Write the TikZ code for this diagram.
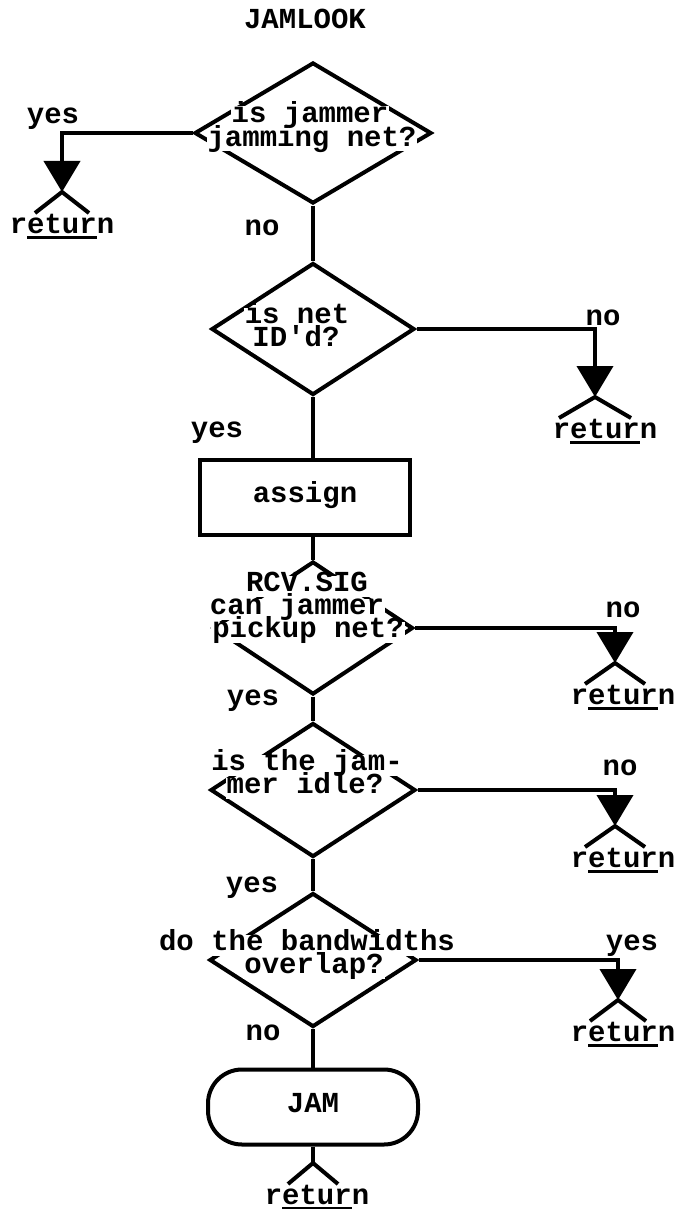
\documentclass[tikz,border=0pt]{standalone}
\usepackage{fontspec}
\setmonofont{Liberation Mono}
\usetikzlibrary{arrows.meta,shapes.geometric,calc}
\tikzset{
  decision/.style={diamond, draw, line width=4pt, inner sep=0pt},
  process/.style={rectangle, draw, line width=4pt, minimum width=210pt, minimum height=75pt},
  terminal/.style={rectangle, rounded corners=34pt, draw, line width=4pt,
    minimum width=210pt, minimum height=75pt},
  txt/.style={font=\fontsize{29}{22}\selectfont\ttfamily\bfseries, inner sep=1pt,
    text height=15pt, text depth=4pt},
  qline/.style={txt, fill=white},
  flow/.style={line width=4pt},
  exit/.style={flow, -{Triangle[length=31pt,width=36pt]}}
}
\newcommand{\ulret}[1]{\setbox0\hbox{#1}\rlap{\rule[-6pt]{\wd0}{3pt}}\box0}

\begin{document}
\begin{tikzpicture}[x=1pt, y=-1pt]
  \useasboundingbox (0,0) rectangle (680,1209);
  \node[txt] (title) at (305,23) {JAMLOOK};
  % shapes
  \node[decision, minimum width=237pt, minimum height=141pt] (d1) at (313,133) {};
  \node[decision, minimum width=203pt, minimum height=132pt] (d2) at (313,329) {};
  \node[process] (assign) at (305,497) {};
  \node[decision, minimum width=200pt, minimum height=133pt] (d3) at (313,628) {};
  \node[decision, minimum width=205pt, minimum height=134pt] (d4) at (313,790) {};
  \node[decision, minimum width=207pt, minimum height=134pt] (d5) at (313,960) {};
  \node[terminal] (jam) at (313,1107) {};
  % texts
  \node[txt] at (assign) {assign};
  \node[txt] at (jam) {JAM};
  \node[qline] (q1a) at (310,117) {is jammer};
  \node[qline] (q1b) at (312,141) {jamming net?};
  \node[qline] (q2a) at (297,318) {is net};
  \node[qline] (q2b) at (296,341) {ID'd?};
  \node[qline] (q3a) at (307,586) {RCV.SIG};
  \node[qline] (q3b) at (297,609) {can jammer};
  \node[qline] (q3c) at (308,632) {pickup net?};
  \node[qline] (q4a) at (307,765) {is the jam-};
  \node[qline] (q4b) at (305,788) {mer idle?};
  \node[qline] (q5a) at (307,945) {do the bandwidths};
  \node[qline] (q5b) at (314,968) {overlap?};
  \node[txt] (yes1) at (53,118) {yes};
  \node[txt] (no1) at (262,230) {no};
  \node[txt] (no2) at (603,320) {no};
  \node[txt] (yes2) at (217,432) {yes};
  \node[txt] (no3) at (623,612) {no};
  \node[txt] (yes3) at (253,700) {yes};
  \node[txt] (no4) at (620,770) {no};
  \node[txt] (yes4) at (252,887) {yes};
  \node[txt] (yes5) at (632,945) {yes};
  \node[txt] (no5) at (263,1035) {no};
  % returns
  \coordinate (x1) at (62,192);
  \coordinate (x2) at (595,397);
  \coordinate (x3) at (615,663);
  \coordinate (x4) at (615,826);
  \coordinate (x5) at (618,1000);
  \coordinate (x6) at (313,1163);
  \foreach \i/\dx/\w in {1/0/27, 2/10/36, 3/8/30, 4/8/30, 5/5/28, 6/4/25} {
    \draw[flow] ($(x\i)+(-\w,21)$) -- (x\i) -- ($(x\i)+(\w,21)$);
    \node[txt, anchor=north] (ret\i) at ($(x\i)+(\dx,25)$) {r\ulret{etur}n};
  }
  % connectors
  \draw[flow] (d1.south) -- (d2.north);
  \draw[flow] (d2.south) -- (d2.south |- assign.north);
  \draw[flow] (d2.south |- assign.south) -- (d3.north);
  \draw[flow] (d3.south) -- (d4.north);
  \draw[flow] (d4.south) -- (d5.north);
  \draw[flow] (d5.south) -- (jam.north);
  \draw[flow] (jam.south) -- (x6);
  \draw[exit] (d1.west) -| (x1);
  \draw[exit] (d2.east) -| (x2);
  \draw[exit] (d3.east) -| (x3);
  \draw[exit] (d4.east) -| (x4);
  \draw[exit] (d5.east) -| (x5);
\end{tikzpicture}
\end{document}
